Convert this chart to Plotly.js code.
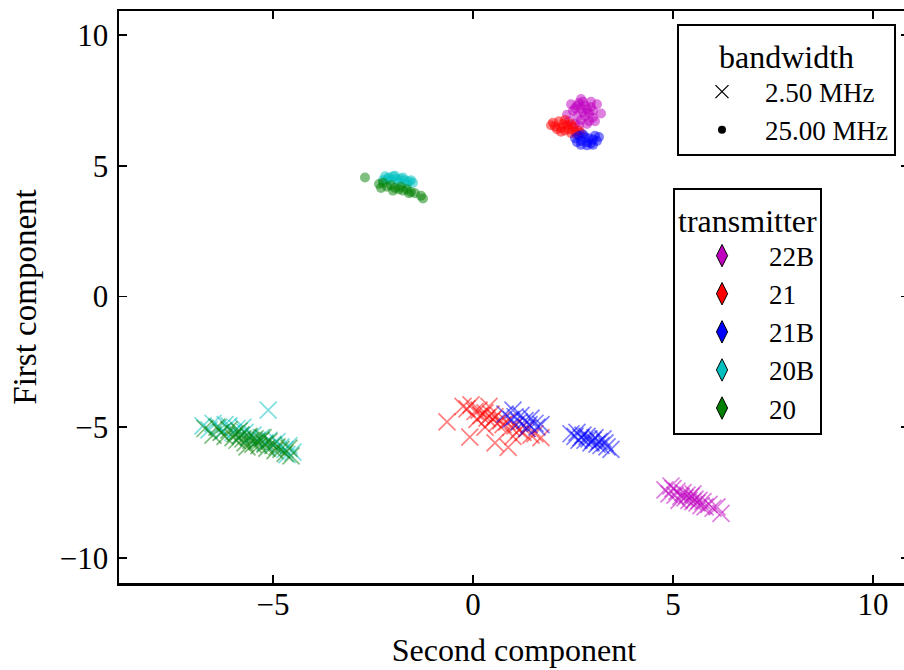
<!DOCTYPE html>
<html>
<head>
<meta charset="utf-8">
<script src="https://cdn.plot.ly/plotly-3.0.1.min.js"></script>
<style>
html, body { margin: 0; padding: 0; overflow: hidden; background: #fff; }
#chart { width: 914px; height: 670px; }
</style>
</head>
<body>
<div id="chart"></div>
<script>
// ---- data ----
const transmitters = ["22B", "21", "21B", "20B", "20"];
const bandwidths = ["2.50 MHz", "25.00 MHz"];
const xTicks = [-5, 0, 5, 10];
const yTicks = [-10, -5, 0, 5, 10];

// 2.50 MHz (cross markers)
const x_22B_2p5 = [4.8, 4.9, 5.0, 5.05, 5.1, 5.2, 5.25, 5.3, 5.35, 5.4, 5.45, 5.5, 5.55, 5.6, 5.65, 5.7, 5.75, 5.8, 5.9, 6.0, 6.1, 6.2, 5.15, 5.5, 4.95];
const y_22B_2p5 = [-7.4, -7.55, -7.35, -7.6, -7.45, -7.65, -7.5, -7.7, -7.6, -7.8, -7.65, -7.85, -7.75, -7.9, -7.8, -8.0, -7.85, -8.05, -7.95, -8.1, -8.05, -8.3, -7.8, -7.55, -7.25];

const x_21_2p5 = [-0.65, -0.25, -0.15, -0.05, 0.05, 0.15, 0.2, 0.3, 0.35, 0.45, 0.5, 0.55, 0.6, 0.7, 0.75, 0.85, 0.95, 1.05, 1.15, 1.25, 1.35, 1.45, 1.55, 1.7, -0.08, 0.55, 0.88, 0.3, 0.1, 1.0, 0.4];
const y_21_2p5 = [-4.8, -4.2, -4.3, -4.15, -4.4, -4.35, -4.55, -4.45, -4.65, -4.5, -4.7, -4.6, -4.85, -4.75, -4.9, -4.8, -5.0, -4.95, -5.1, -5.2, -5.05, -5.3, -5.25, -5.4, -5.38, -5.6, -5.77, -5.0, -4.7, -5.35, -4.2];

const x_21B_2p5 = [0.8, 0.95, 1.05, 1.15, 1.2, 1.3, 1.4, 1.45, 1.55, 1.6, 1.7, 1.0, 1.35, 2.45, 2.55, 2.6, 2.7, 2.75, 2.8, 2.85, 2.9, 2.95, 3.0, 3.05, 3.1, 3.15, 3.2, 3.3, 3.35, 3.45, 2.65, 3.25];
const y_21B_2p5 = [-4.5, -4.7, -4.6, -4.8, -4.55, -4.75, -4.9, -4.65, -4.85, -5.0, -4.9, -4.35, -5.05, -5.25, -5.35, -5.2, -5.4, -5.3, -5.5, -5.35, -5.45, -5.6, -5.5, -5.4, -5.65, -5.55, -5.7, -5.6, -5.75, -5.85, -5.5, -5.45];

const x_20B_2p5 = [-6.75, -6.6, -6.5, -6.35, -6.25, -6.1, -6.0, -5.9, -5.8, -5.7, -5.6, -5.5, -5.4, -5.3, -5.2, -5.1, -5.0, -4.9, -4.8, -4.7, -4.6, -4.5, -4.65, -5.12, -6.2, -5.75];
const y_20B_2p5 = [-4.95, -5.1, -4.85, -5.0, -5.15, -4.95, -5.2, -5.05, -5.3, -5.2, -5.4, -5.3, -5.5, -5.4, -5.6, -5.5, -5.65, -5.55, -5.75, -5.85, -5.7, -5.95, -6.05, -4.35, -4.9, -5.0];

const x_20_2p5 = [-6.7, -6.5, -6.4, -6.3, -6.2, -6.1, -6.0, -5.95, -5.9, -5.8, -5.75, -5.7, -5.6, -5.55, -5.5, -5.45, -5.4, -5.35, -5.3, -5.2, -5.15, -5.1, -5.0, -4.95, -4.9, -4.8, -4.7, -4.6, -4.55, -5.65, -5.25, -5.85];
const y_20_2p5 = [-5.05, -5.3, -5.0, -5.2, -5.35, -5.1, -5.4, -5.25, -5.5, -5.3, -5.45, -5.6, -5.35, -5.5, -5.65, -5.45, -5.55, -5.7, -5.5, -5.65, -5.8, -5.55, -5.7, -5.9, -5.75, -5.85, -6.0, -5.8, -6.1, -5.75, -5.4, -5.15];

// 25.00 MHz (dot markers)
const x_22B_25 = [2.35, 2.5, 2.6, 2.65, 2.7, 2.75, 2.8, 2.85, 2.9, 2.95, 3.0, 3.1, 2.6, 2.7, 2.55, 2.8, 3.0, 2.45, 2.75, 2.9, 2.4, 2.55, 2.65, 2.85, 3.05, 3.2, 2.95, 2.7];
const y_22B_25 = [6.95, 7.1, 7.3, 7.4, 7.2, 7.05, 7.3, 7.15, 7.0, 7.25, 7.1, 7.35, 6.9, 6.75, 7.2, 6.9, 6.85, 7.35, 7.45, 6.7, 6.7, 6.6, 6.55, 6.6, 6.7, 7.0, 7.45, 7.55];

const x_21_25 = [2.0, 2.05, 2.15, 2.2, 2.25, 2.3, 2.35, 2.4, 2.45, 2.5, 2.55, 2.6, 2.1, 2.3, 2.65, 1.95, 2.2, 2.45, 2.7];
const y_21_25 = [6.65, 6.5, 6.7, 6.45, 6.6, 6.35, 6.55, 6.4, 6.25, 6.5, 6.3, 6.2, 6.4, 6.75, 6.35, 6.55, 6.3, 6.6, 6.25];

const x_21B_25 = [2.55, 2.65, 2.7, 2.8, 2.85, 2.9, 2.95, 3.0, 3.05, 3.1, 2.75, 2.6, 2.7, 2.85, 3.0, 3.15];
const y_21B_25 = [6.05, 6.15, 5.95, 6.1, 5.9, 6.05, 5.85, 6.0, 6.15, 5.95, 6.2, 5.9, 5.8, 5.78, 5.8, 6.1];

const x_20B_25 = [-2.2, -2.1, -2.0, -1.9, -1.8, -1.7, -1.6, -1.5, -2.05, -1.85, -1.65, -2.15, -2.25, -1.95, -1.75, -1.55];
const y_20B_25 = [4.6, 4.55, 4.6, 4.5, 4.5, 4.45, 4.4, 4.35, 4.45, 4.4, 4.3, 4.5, 4.45, 4.62, 4.55, 4.45];

const x_20_25 = [-2.7, -2.35, -2.25, -2.15, -2.05, -1.95, -1.85, -1.75, -1.65, -1.55, -1.45, -1.3, -1.25, -2.0, -1.8, -1.6, -2.3];
const y_20_25 = [4.55, 4.3, 4.35, 4.2, 4.25, 4.15, 4.1, 4.05, 4.1, 4.0, 3.95, 3.85, 3.75, 4.05, 4.2, 3.95, 4.15];

// ---- styling ----
const colors = {"22B": "#bf00bf", "21": "#ff0000", "21B": "#0000ff", "20B": "#00bfbf", "20": "#008000"};
const FONT = "Liberation Serif, Times New Roman, serif";

const series = {
  "22B": [[x_22B_2p5, y_22B_2p5], [x_22B_25, y_22B_25]],
  "21":  [[x_21_2p5, y_21_2p5], [x_21_25, y_21_25]],
  "21B": [[x_21B_2p5, y_21B_2p5], [x_21B_25, y_21B_25]],
  "20B": [[x_20B_2p5, y_20B_2p5], [x_20B_25, y_20B_25]],
  "20":  [[x_20_2p5, y_20_2p5], [x_20_25, y_20_25]]
};

const traces = [];
transmitters.forEach(t => {
  const c = colors[t];
  const [cross, dot] = series[t];
  traces.push({
    type: "scatter", mode: "markers", x: cross[0], y: cross[1], showlegend: false,
    marker: {symbol: "x-thin-open", size: 17, color: c, opacity: 0.5, line: {color: c, width: 1.7}},
    hoverinfo: "skip"
  });
  traces.push({
    type: "scatter", mode: "markers", x: dot[0], y: dot[1], showlegend: false,
    marker: {symbol: "circle", size: 10, color: c, opacity: 0.5, line: {width: 0}},
    hoverinfo: "skip"
  });
});

// legend-only entries
traces.push({type: "scatter", mode: "markers", x: [null], y: [null], name: bandwidths[0], legend: "legend", legendgroup: "b0",
  marker: {symbol: "x-thin-open", size: 13, color: "#000", line: {color: "#000", width: 1.3}}});
traces.push({type: "scatter", mode: "markers", x: [null], y: [null], name: bandwidths[1], legend: "legend", legendgroup: "b1",
  marker: {symbol: "circle", size: 8, color: "#000"}});
transmitters.forEach((t, i) => {
  traces.push({type: "scatter", mode: "markers", x: [null], y: [null], name: t, legend: "legend2", legendgroup: "t" + i,
    marker: {symbol: "diamond-tall", size: 16, color: colors[t], line: {color: "#000", width: 1}}});
});

const axisCommon = {
  showgrid: false, zeroline: false, showline: true, linecolor: "#000", linewidth: 2.5,
  mirror: "ticks", ticks: "inside", ticklen: 8, tickwidth: 1.5, tickcolor: "#000",
  tickfont: {family: FONT, size: 31, color: "#000"}
};

const layout = {
  width: 914, height: 670,
  margin: {l: 119, r: 5, t: 11, b: 87, pad: 0},
  paper_bgcolor: "#fff", plot_bgcolor: "#fff",
  font: {family: FONT, color: "#000"},
  xaxis: Object.assign({}, axisCommon, {
    range: [-8.85, 10.9], tickvals: xTicks, ticklabelstandoff: -8,
    title: {text: "Second component", font: {family: FONT, size: 32, color: "#000"}, standoff: 18}
  }),
  yaxis: Object.assign({}, axisCommon, {
    range: [-10.96, 10.92], tickvals: yTicks, ticklabelstandoff: 2,
    title: {text: "First component", font: {family: FONT, size: 33, color: "#000"}, standoff: 14}
  }),
  legend: {
    x: 0.7063, y: 0.9773, xanchor: "left", yanchor: "top",
    bgcolor: "#fff", bordercolor: "#000", borderwidth: 2,
    font: {family: FONT, size: 27, color: "#000"},
    title: {text: "bandwidth", side: "top center", font: {family: FONT, size: 32, color: "#000"}},
    itemwidth: 76, traceorder: "grouped", tracegroupgap: 0
  },
  legend2: {
    x: 0.7013, y: 0.6906, xanchor: "left", yanchor: "top",
    bgcolor: "#fff", bordercolor: "#000", borderwidth: 2,
    font: {family: FONT, size: 27, color: "#000"},
    title: {text: "transmitter", side: "top center", font: {family: FONT, size: 32, color: "#000"}},
    itemwidth: 84, traceorder: "grouped", tracegroupgap: 0
  },
  showlegend: true
};

Plotly.newPlot("chart", traces, layout, {displayModeBar: false, staticPlot: true});
</script>
</body>
</html>
